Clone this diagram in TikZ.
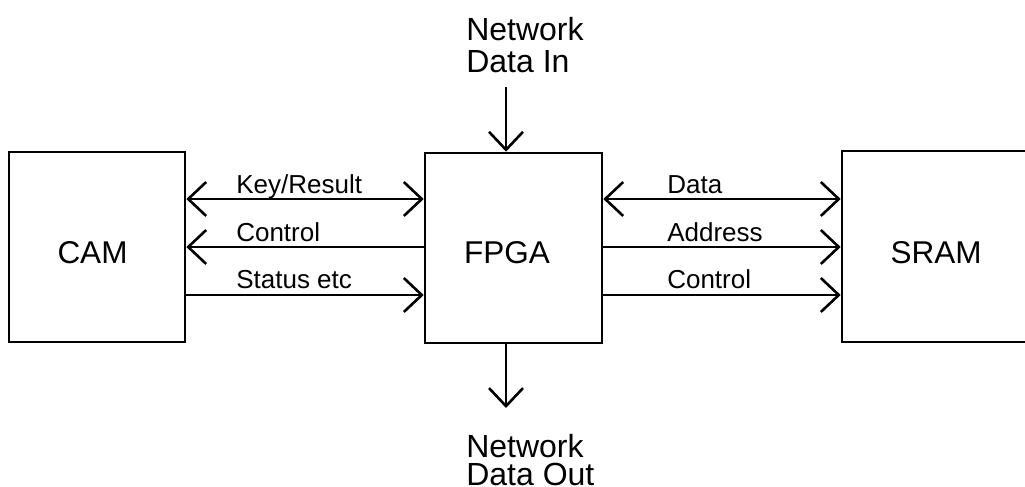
\documentclass[tikz,border=0pt]{standalone}
\usepackage{fontspec}
\setmainfont{Liberation Sans}
\usetikzlibrary{arrows.meta}
\begin{document}
\begin{tikzpicture}[x=1pt,y=-1pt,
  line width=2.6pt,
  block/.style={draw, rectangle, inner sep=0pt},
  bigtext/.style={font=\fontsize{31.5}{32}\selectfont, inner sep=0pt},
  sigtext/.style={font=\fontsize{26}{30}\selectfont, inner sep=0pt, anchor=base west},
  portnote/.style={inner sep=0pt, align=left, anchor=north west},
  barb/.tip={Straight Barb[length=18pt,width=34pt,line cap=butt,line join=miter]},
  fwd/.style={-barb},
  bidir/.style={barb-barb}]
\useasboundingbox (0,0) rectangle (1025,487);
\clip (0,0) rectangle (1025,487);

% functional blocks
\node[block, minimum width=176pt, minimum height=190pt] (cam)  at (97,247)    {};
\node[block, minimum width=177pt, minimum height=190pt] (fpga) at (513.5,248) {};
\node[block, minimum width=188pt, minimum height=191pt] (sram) at (936,246.5) {};

\node[bigtext, anchor=base] (camname)  at (92.5,263) {CAM};
\node[bigtext, anchor=base] (fpganame) at (507,263)  {FPGA};
\node[bigtext, anchor=base] (sramname) at (936,263)  {SRAM};

% CAM <-> FPGA buses
\draw[bidir] (cam.east |- 0,199) -- (fpga.west |- 0,199);
\draw[fwd]   (fpga.west |- 0,247) -- (cam.east |- 0,247);
\draw[fwd]   (cam.east |- 0,295) -- (fpga.west |- 0,295);
\node[sigtext] (keyres) at (235,193) {Key/Result};
\node[sigtext] (camctl) at (235,241) {Control};
\node[sigtext] (status) at (235,288) {Status etc};

% FPGA <-> SRAM buses
\draw[bidir] (fpga.east |- 0,199) -- (sram.west |- 0,199);
\draw[fwd]   (fpga.east |- 0,247) -- (sram.west |- 0,247);
\draw[fwd]   (fpga.east |- 0,295) -- (sram.west |- 0,295);
\node[sigtext] (data)    at (666,193) {Data};
\node[sigtext] (address) at (666,241) {Address};
\node[sigtext] (sramctl) at (666,288) {Control};

% network ports
\coordinate (netin)  at (506,87);
\coordinate (netout) at (506,408);
\draw[fwd] (netin) -- (fpga.north -| netin);
\draw[fwd] (fpga.south -| netout) -- (netout);
\node[portnote, font=\fontsize{32}{32}\selectfont] (innote) at (465,16.5) {Network\\Data In};
\node[portnote, font=\fontsize{32}{28.5}\selectfont] (outnote) at (465,433) {Network\\Data Out};
\end{tikzpicture}
\end{document}
